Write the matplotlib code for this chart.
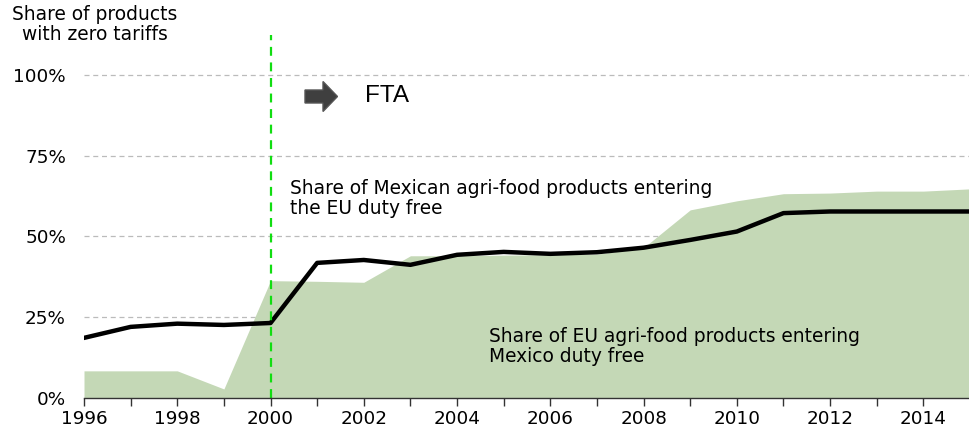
import matplotlib
matplotlib.use('Agg')
import matplotlib.pyplot as plt
import matplotlib.patches as mpatches

plt.rcParams['font.family'] = ['DejaVu Sans']

years = list(range(1996, 2016))
# share of EU agri-food products entering Mexico duty free (area)
eu_to_mexico = [8.4, 8.4, 8.4, 2.8, 36.3, 36.1, 35.8, 44.0, 44.0, 44.2,
                44.3, 44.5, 46.5, 58.2, 61.0, 63.2, 63.4, 64.0, 64.0, 64.7]
# share of Mexican agri-food products entering the EU duty free (line)
mexico_to_eu = [18.6, 22.0, 23.0, 22.6, 23.2, 41.8, 42.7, 41.2, 44.3, 45.2,
                44.6, 45.1, 46.5, 48.9, 51.5, 57.2, 57.7, 57.7, 57.7, 57.7]
yticks = [0, 25, 50, 75, 100]
ytick_labels = ['0%', '25%', '50%', '75%', '100%']
fta_year = 2000

fig = plt.figure(figsize=(9.7, 4.3), dpi=100)
ax = fig.add_axes([84 / 970, 1 - 398 / 430, 1 - 84 / 970, (398 - 35) / 430])

ax.fill_between(years, 0, eu_to_mexico, color='#c4d8b6', lw=0, zorder=1)
ax.plot(years, mexico_to_eu, color='black', lw=3.2, zorder=3,
        solid_joinstyle='round')
ax.axvline(fta_year, color='#11dd11', lw=1.6, ls=(0, (4, 3)), zorder=4)

ax.set_xlim(1996, 2014.73)
ax.set_ylim(0, 112.3)
ax.set_xticks(years)
ax.set_xticklabels([str(y) if y % 2 == 0 else '' for y in years], fontsize=13.2)
ax.set_yticks(yticks)
ax.set_yticklabels(ytick_labels, fontsize=13.2)
ax.tick_params(axis='x', length=6, width=1, color='#333333', pad=3)
ax.tick_params(axis='y', length=0, pad=13)
ax.yaxis.grid(True, color='#bbbbbb', ls=(0, (4, 3)), lw=0.9, zorder=0)
ax.set_axisbelow(True)
for s in ['left', 'right', 'top']:
    ax.spines[s].set_visible(False)
ax.spines['bottom'].set_color('#333333')
ax.spines['bottom'].set_linewidth(1.0)
ax.spines['bottom'].set_zorder(5)

# hide the 0% grid line under the axis
ax.get_ygridlines()[0].set_visible(False)

fig.text(95 / 970, 1 - 5 / 430, 'Share of products\nwith zero tariffs',
         ha='center', va='top', fontsize=13.4, linespacing=1.1)

ax.text(2000.42, 67.8, 'Share of Mexican agri-food products entering\nthe EU duty free',
        fontsize=13.4, va='top', ha='left', linespacing=1.1)
ax.text(2004.69, 22.0, 'Share of EU agri-food products entering\nMexico duty free',
        fontsize=13.4, va='top', ha='left', linespacing=1.1, zorder=5)

# FTA arrow
arrow = mpatches.FancyArrow(3.05, 4.3 - 0.965, 0.18, 0, width=0.13,
                            head_width=0.30, head_length=0.145,
                            length_includes_head=False,
                            transform=fig.dpi_scale_trans,
                            fc='#3f3f3f', ec='#555555', lw=1)
fig.patches.append(arrow)
fig.text(3.65 / 9.7, 1 - 0.965 / 4.3, 'FTA', fontsize=17.5, va='center', ha='left',
         family='Liberation Sans')

fig.savefig('out.png', dpi=100)
